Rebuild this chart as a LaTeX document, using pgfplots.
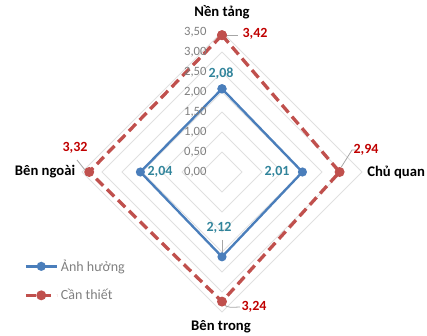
\documentclass[border=0pt]{standalone}
\usepackage{fontspec}
\setmainfont{Carlito}
\usepackage{pgfplots}
\pgfplotsset{compat=1.18}
\definecolor{cblue}{HTML}{4A7EBB}
\definecolor{cred}{HTML}{C0504D}
\definecolor{lblue}{HTML}{31849B}
\definecolor{lred}{HTML}{C00000}
\definecolor{gridc}{HTML}{E0E0E0}
\definecolor{tickc}{HTML}{7F7F7F}
\definecolor{leadc}{HTML}{A6A6A6}
\tikzset{tl/.style={anchor=east, inner sep=0pt, font=\fontsize{9.5}{11}\selectfont, text=tickc},
  cat/.style={font=\fontsize{11}{13}\selectfont\bfseries},
  dl/.style={font=\fontsize{10.5}{12}\selectfont\bfseries}}
\begin{document}
\begin{tikzpicture}
\begin{axis}[
  scale only axis, width=320.25pt, height=252pt,
  xmin=-5.55, xmax=5.125, ymin=-4.1, ymax=4.3,
  hide axis, clip=false,
  legend style={draw=none, fill=none, at={(axis cs:-5.05,-2.05)}, anchor=north west,
    font=\fontsize{10.5}{12}\selectfont\color{tickc}, row sep=8pt,
    legend cell align=left},
  legend image code/.code={\draw[mark repeat=2,mark phase=2,#1] plot coordinates {(0pt,0pt)(11.5pt,0pt)(23pt,0pt)};},
]
% grid diamonds
\pgfplotsinvokeforeach{0.5,1.0,1.5,2.0,2.5,3.0,3.5}{
  \addplot[gridc, line width=0.75pt, forget plot] coordinates {(0,#1) (#1,0) (0,-#1) (-#1,0) (0,#1)};
}
% series
\addplot[cblue, line width=1.75pt, mark=*, mark size=2.5pt, mark options={fill=cblue, solid}]
  coordinates {(0,2.08) (2.01,0) (0,-2.12) (-2.04,0) (0,2.08)};
\addlegendentry{Ảnh hưởng}
\addplot[cred, line width=2.5pt, dash pattern=on 7.5pt off 4pt, mark=*, mark size=2.4pt, mark options={fill=cred, solid}]
  coordinates {(0,3.42) (2.94,0) (0,-3.24) (-3.32,0) (0,3.42)};
\addlegendentry{Cần thiết}
% tick labels
\node[tl] at (axis cs:-0.38,0) {0,00};
\node[tl] at (axis cs:-0.38,0.5) {0,50};
\node[tl] at (axis cs:-0.38,1) {1,00};
\node[tl] at (axis cs:-0.38,1.5) {1,50};
\node[tl] at (axis cs:-0.38,2) {2,00};
\node[tl] at (axis cs:-0.38,2.5) {2,50};
\node[tl] at (axis cs:-0.38,3) {3,00};
\node[tl] at (axis cs:-0.38,3.5) {3,50};
% category labels
\node[cat] at (axis cs:0,4.0) {Nền tảng};
\node[cat, anchor=west, inner sep=0pt] at (axis cs:3.625,-0.02) {Chủ quan};
\node[cat] at (axis cs:-0.025,-3.875) {Bên trong};
\node[cat] at (axis cs:-4.425,0) {Bên ngoài};
% leader lines
\draw[leadc, line width=0.6pt] (axis cs:0.1,3.42) -- (axis cs:0.4,3.42);
\draw[leadc, line width=0.6pt] (axis cs:2.98,0.12) -- (axis cs:3.25,0.55) -- (axis cs:3.35,0.55);
\draw[leadc, line width=0.6pt] (axis cs:-3.625,0.3) -- (axis cs:-3.425,0.05);
\draw[leadc, line width=0.6pt] (axis cs:0,-1.7) -- (axis cs:0,-2.07);
\draw[leadc, line width=0.6pt] (axis cs:0.03,-3.28) to[out=-60,in=180] (axis cs:0.45,-3.375);
% data labels
\node[dl, text=lred] at (axis cs:0.825,3.45) {3,42};
\node[dl, text=lred] at (axis cs:3.6,0.55) {2,94};
\node[dl, text=lred] at (axis cs:0.8,-3.375) {3,24};
\node[dl, text=lred] at (axis cs:-3.675,0.6) {3,32};
\node[dl, text=lblue] at (axis cs:-0.025,2.45) {2,08};
\node[dl, text=lblue] at (axis cs:1.375,0) {2,01};
\node[dl, text=lblue] at (axis cs:-0.075,-1.4) {2,12};
\node[dl, text=lblue] at (axis cs:-1.55,0) {2,04};
\path (rel axis cs:0,0) rectangle (rel axis cs:1,1);
\end{axis}
\pgfresetboundingbox
\path (current axis.south west) rectangle (current axis.north east);
\end{tikzpicture}
\end{document}
